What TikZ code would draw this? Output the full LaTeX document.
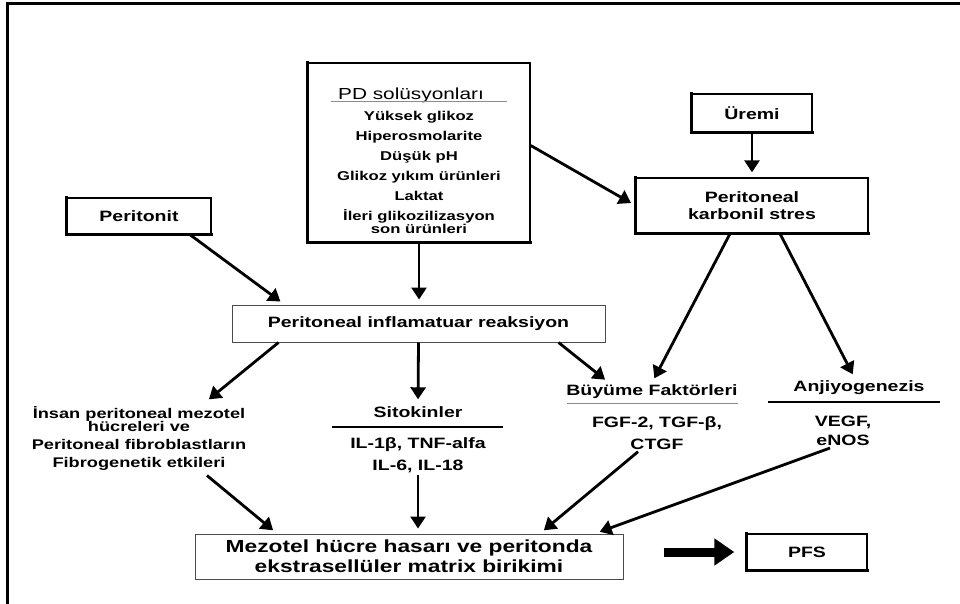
\documentclass[tikz,border=0pt]{standalone}
\usepackage{fontspec}
\setmainfont{Liberation Sans}[FakeStretch=1.3]
\usetikzlibrary{arrows.meta,positioning,calc}
\newcommand{\PfsBoxFont}{\fontsize{15}{17}\selectfont\bfseries}
\newcommand{\PfsTitleFont}{\fontsize{16}{18}\selectfont}
\newcommand{\PfsItemFont}{\fontsize{12.8}{20}\selectfont\bfseries}
\newcommand{\PfsListFont}{\fontsize{15}{22}\selectfont\bfseries}
\newcommand{\PfsSideFont}{\fontsize{14}{18}\selectfont\bfseries}
\newcommand{\PfsMainFont}{\fontsize{17.5}{20}\selectfont\bfseries}
\tikzset{
  every node/.style={align=center},
  %% boxes
  shBox/.style={
    draw,
    line width=1.4pt,
    inner sep=0pt,
    font=\PfsBoxFont,
  },
  thinBox/.style={
    draw=black!70,
    line width=1pt,
    inner sep=0pt,
    font=\PfsBoxFont,
  },
  lbl/.style={
    inner sep=2pt,
    font=\PfsBoxFont,
  },
  shEdge/.style={
    line width=3.4pt,
    line cap=rect,
  },
  %% arrows
  arr/.style={
    -{Triangle[length=12pt,width=15pt]},
    line width=2.8pt,
    shorten >=5pt,
  },
  bigArr/.style={
    -{Triangle[length=20pt,width=26pt]},
    line width=9pt,
  },
  %% rules
  sepLine/.style={black!45, line width=0.8pt},
  barLine/.style={line width=2.6pt},
  frameLine/.style={line width=3pt},
}

\begin{document}
\begin{tikzpicture}[x=1pt,y=-1pt]
\useasboundingbox (0,0) rectangle (960,604);
\draw[frameLine] (7,604) -- (7,4) -- (960,4);

%% -- sources ---------------------------------------------------------
\node[shBox, minimum width=222pt, minimum height=179pt] (PD) at (419,152.5) {};
\node[font=\PfsTitleFont, inner sep=0pt] (PDt) at (411,95) {PD solüsyonları};
\draw[sepLine] ($(PD.north west)+(24,39)$) -- ($(PD.north east)+(-24,39)$);
\node[font=\PfsItemFont] (PDl) at (419,172) {%
  Yüksek glikoz\\
  Hiperosmolarite\\
  Düşük pH\\
  Glikoz yıkım ürünleri\\
  Laktat\\
  İleri glikozilizasyon\\[-7pt]
  son ürünleri};

\node[shBox, minimum width=144pt, minimum height=36pt] (Per) at (139,216) {Peritonit};
\node[shBox, minimum width=120pt, minimum height=38pt] (Ur) at (752,113) {Üremi};
\node[shBox, minimum width=232pt, minimum height=55pt] (Kar) at (752,205.5) {%
  Peritoneal\\karbonil stres};

%% -- middle ----------------------------------------------------------
\node[thinBox, minimum width=373pt, minimum height=37pt] (Inf) at (418.5,323.5) {%
  Peritoneal inflamatuar reaksiyon};

\node[font=\PfsSideFont] (Fib) at (139,438) {%
  İnsan peritoneal mezotel\\[-5pt]
  hücreleri ve\\
  Peritoneal fibroblastların\\
  Fibrogenetik etkileri};

\node[lbl] (Sit) at (418,412) {Sitokinler};
\draw[barLine] ($(Sit.center)+(-86,15)$) -- ($(Sit.center)+(85,15)$);
\node[lbl, font=\PfsListFont] (SitL) at (418,455) {IL-1β, TNF-alfa\\IL-6, IL-18};

\node[lbl] (Buy) at (652,392) {Büyüme Faktörleri};
\draw[sepLine] ($(Buy.center)+(-85,11)$) -- ($(Buy.center)+(86,11)$);
\node[lbl, font=\PfsListFont] (BuyL) at (657,433) {FGF-2, TGF-β,\\CTGF};

\node[lbl] (Anj) at (859,388) {Anjiyogenezis};
\draw[barLine] ($(Anj.center)+(-91,14)$) -- ($(Anj.center)+(81,14)$);
\node[lbl, font=\fontsize{15}{19}\selectfont\bfseries] (AnjL) at (843,431) {VEGF,\\eNOS};

%% -- result ----------------------------------------------------------
\node[thinBox, font=\PfsMainFont, minimum width=428pt, minimum height=45pt] (Mez) at (409,556.5) {%
  Mezotel hücre hasarı ve peritonda\\ekstrasellüler matrix birikimi};
\node[shBox, minimum width=120pt, minimum height=36pt] (PFS) at (807,552) {PFS};

%% shadowed edges
\foreach \n in {PD,Per,Ur,Kar,PFS}
  \draw[shEdge] (\n.north west) -- (\n.south west) -- (\n.south east);

%% -- arrows ----------------------------------------------------------
\draw[arr] ([xshift=51pt]Per.south) -- ([xshift=-134pt]Inf.north);
\draw[arr] (PD.south) -- (PD.south |- Inf.north);
\draw[arr] ([yshift=7pt]PD.east) -- (Kar.west);
\draw[arr] (Ur.south) -- (Kar.north);

\draw[arr] ([xshift=-140pt]Inf.south) -- ([xshift=66pt]Fib.north);
\draw[arr] (Inf.south) -- (Sit.north);
\draw[arr] ([xshift=-47pt]Inf.south east) -- ([xshift=-43pt]Buy.north);
\draw[arr] ([xshift=-22pt]Kar.south) -- (Buy.north);
\draw[arr] ([xshift=28pt]Kar.south) -- ([xshift=-4pt]Anj.north);

\draw[arr] ([xshift=68pt,yshift=-2pt]Fib.south) -- ([xshift=-132pt]Mez.north);
\draw[arr] (SitL.south) -- (SitL.south |- Mez.north);
\draw[arr] ([xshift=-19pt]BuyL.south) -- ([xshift=131pt]Mez.north);
\draw[arr] ([xshift=-13pt]AnjL.south) -- ([xshift=186pt]Mez.north);

\draw[bigArr, shorten <=40pt, shorten >=12pt] (PFS.west -| Mez.east) -- (PFS.west);

\end{tikzpicture}
\end{document}
